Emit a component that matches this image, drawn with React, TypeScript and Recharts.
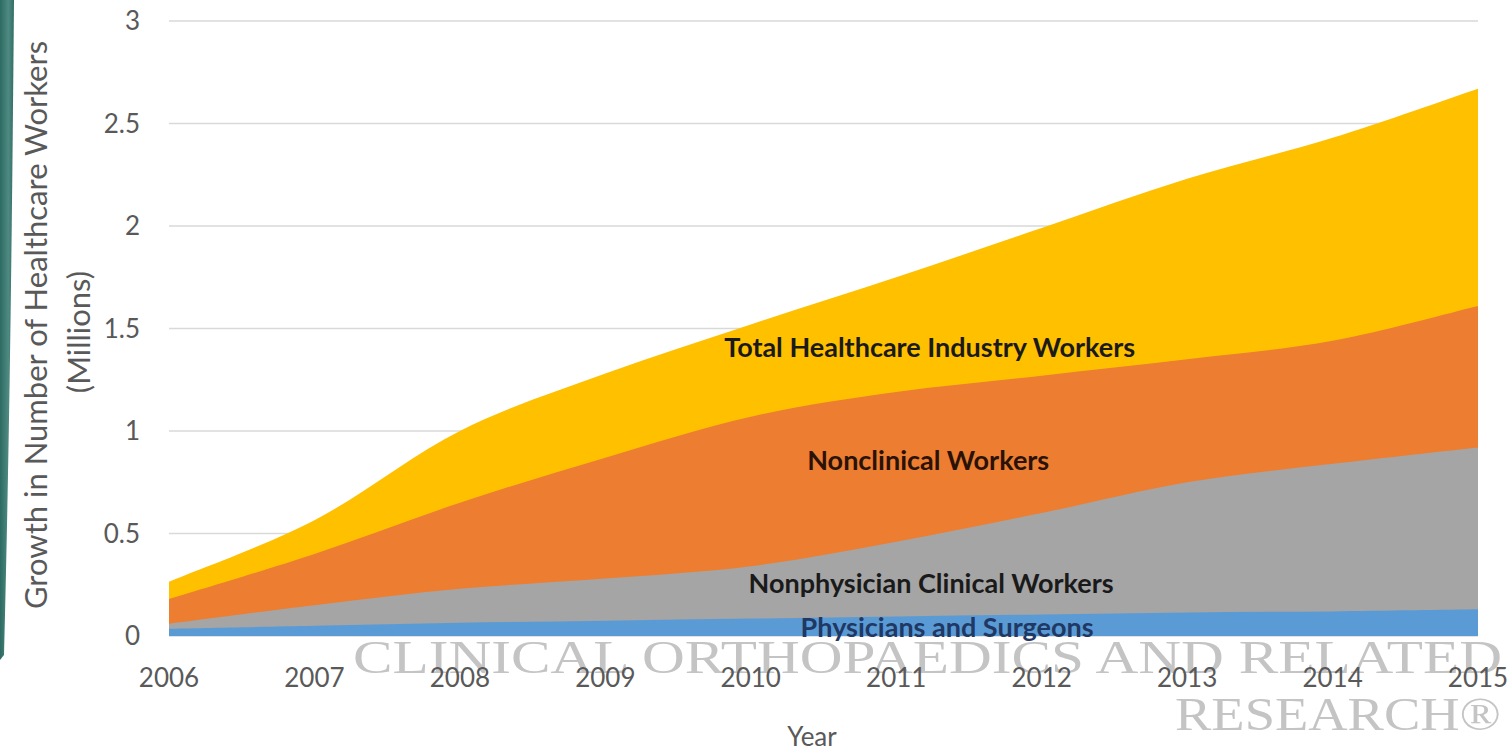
import { AreaChart, Area, XAxis, YAxis, CartesianGrid, ReferenceDot, Label } from "recharts";

const years = [2006, 2007, 2008, 2009, 2010, 2011, 2012, 2013, 2014, 2015];
const totalWorkers = [0.265, 0.565, 1.0, 1.28, 1.52, 1.75, 1.99, 2.23, 2.43, 2.67];
const nonclinical = [0.18, 0.4, 0.65, 0.87, 1.07, 1.19, 1.27, 1.35, 1.44, 1.61];
const nonphysician = [0.06, 0.15, 0.23, 0.28, 0.34, 0.46, 0.6, 0.75, 0.84, 0.92];
const physicians = [0.035, 0.05, 0.065, 0.075, 0.085, 0.095, 0.105, 0.115, 0.12, 0.13];
const yTicks = [0, 0.5, 1, 1.5, 2, 2.5, 3];

// in-chart series labels (year, value) where the text is centred
const annotations = [
  { text: "Total Healthcare Industry Workers", year: 2011.23, value: 1.41, color: "#1a1a1a" },
  { text: "Nonclinical Workers", year: 2011.22, value: 0.86, color: "#2a1208" },
  { text: "Nonphysician Clinical Workers", year: 2011.24, value: 0.26, color: "#1a1a1a" },
  { text: "Physicians and Surgeons", year: 2011.35, value: 0.045, color: "#1f3864" },
];

const data = years.map((year, i) => ({
  year,
  total: totalWorkers[i],
  nonclinical: nonclinical[i],
  nonphysician: nonphysician[i],
  physicians: physicians[i],
}));

const FONT = "Lato, 'Open Sans', sans-serif";
const tickStyle = { fill: "#595959", fontSize: 26, fontFamily: FONT };

// Catmull-Rom style smoothing, closer to Excel's "smoothed line" than monotone
function smoothCurve(context: any) {
  let pts: number[][] = [];
  let line = NaN;
  return {
    areaStart() { line = 0; },
    areaEnd() { line = NaN; },
    lineStart() { pts = []; },
    point(x: number, y: number) { pts.push([+x, +y]); },
    lineEnd() {
      const n = pts.length;
      if (n) {
        if (line) context.lineTo(pts[0][0], pts[0][1]);
        else context.moveTo(pts[0][0], pts[0][1]);
        for (let i = 0; i < n - 1; i++) {
          const p0 = pts[i - 1] || pts[i];
          const p1 = pts[i];
          const p2 = pts[i + 1];
          const p3 = pts[i + 2] || p2;
          context.bezierCurveTo(
            p1[0] + (p2[0] - p0[0]) / 6,
            p1[1] + (p2[1] - p0[1]) / 6,
            p2[0] - (p3[0] - p1[0]) / 6,
            p2[1] - (p3[1] - p1[1]) / 6,
            p2[0],
            p2[1]
          );
        }
      }
      if (line || (line !== 0 && n === 1)) context.closePath();
      line = 1 - line;
    },
  };
}

export default function App() {
  return (
    <div style={{ position: "absolute", left: 0, top: 0, width: 1511, height: 752, background: "#fff", overflow: "hidden" }}>
      {/* background decorations: teal side bar and journal watermark */}
      <svg width={1511} height={752} style={{ position: "absolute", left: 0, top: 0 }}>
        <defs>
          <linearGradient id="teal" x1="0" y1="0" x2="1" y2="0">
            <stop offset="0" stopColor="#2c6b62" />
            <stop offset="0.6" stopColor="#4f8a82" />
            <stop offset="1" stopColor="#2f6d64" />
          </linearGradient>
        </defs>
        <path d="M0,0 L14,0 C12,220 10,420 4,655 L0,660 Z" fill="url(#teal)" />
        <g fill="#c4c4c4" fontFamily="'Liberation Serif', 'DejaVu Serif', serif">
          <text x={353} y={673} fontSize={46} textLength={1149} lengthAdjust="spacingAndGlyphs">
            CLINICAL ORTHOPAEDICS AND RELATED
          </text>
          <text x={1175} y={730} fontSize={46} textLength={326} lengthAdjust="spacingAndGlyphs">
            RESEARCH®
          </text>
        </g>
      </svg>
      <div style={{ position: "absolute", left: 0, top: 0 }}>
        <AreaChart width={1511} height={752} data={data} margin={{ top: 21, right: 33, bottom: 0, left: 0 }}>
          <CartesianGrid vertical={false} stroke="#d9d9d9" strokeWidth={1.5} />
          <XAxis
            dataKey="year"
            type="number"
            domain={[2006, 2015]}
            ticks={years}
            height={116}
            axisLine={false}
            tickLine={false}
            tickSize={6}
            tickMargin={27}
            tick={tickStyle}
            interval={0}
          >
            <Label
              content={() => (
                <text x={812} y={746} textAnchor="middle" fill="#595959" fontSize={26} fontFamily={FONT}>
                  Year
                </text>
              )}
            />
          </XAxis>
          <YAxis
            domain={[0, 3]}
            ticks={yTicks}
            width={169}
            axisLine={false}
            tickLine={false}
            tickSize={6}
            tickMargin={23}
            tick={tickStyle}
          >
            <Label
              content={() => (
                <g fill="#595959" fontSize={31} fontFamily={FONT} textAnchor="middle">
                  <text x={35} y={325} transform="rotate(-90 35 325)" dominantBaseline="central">
                    Growth in Number of Healthcare Workers
                  </text>
                  <text x={78} y={332} transform="rotate(-90 78 332)" dominantBaseline="central">
                    (Millions)
                  </text>
                </g>
              )}
            />
          </YAxis>
          <Area type={smoothCurve as any} dataKey="total" stroke="none" fill="#FFC000" fillOpacity={1} isAnimationActive={false} />
          <Area type={smoothCurve as any} dataKey="nonclinical" stroke="none" fill="#ED7D31" fillOpacity={1} isAnimationActive={false} />
          <Area type={smoothCurve as any} dataKey="nonphysician" stroke="none" fill="#A5A5A5" fillOpacity={1} isAnimationActive={false} />
          <Area type={smoothCurve as any} dataKey="physicians" stroke="none" fill="#5B9BD5" fillOpacity={1} isAnimationActive={false} />
          {annotations.map((a) => (
            <ReferenceDot
              key={a.text}
              x={a.year}
              y={a.value}
              r={0}
              shape={(p: any) => (
                <text
                  x={p.cx}
                  y={p.cy}
                  textAnchor="middle"
                  dominantBaseline="central"
                  fill={a.color}
                  fontSize={27}
                  fontWeight={700}
                  fontFamily={FONT}
                >
                  {a.text}
                </text>
              )}
            />
          ))}
        </AreaChart>
      </div>
    </div>
  );
}
